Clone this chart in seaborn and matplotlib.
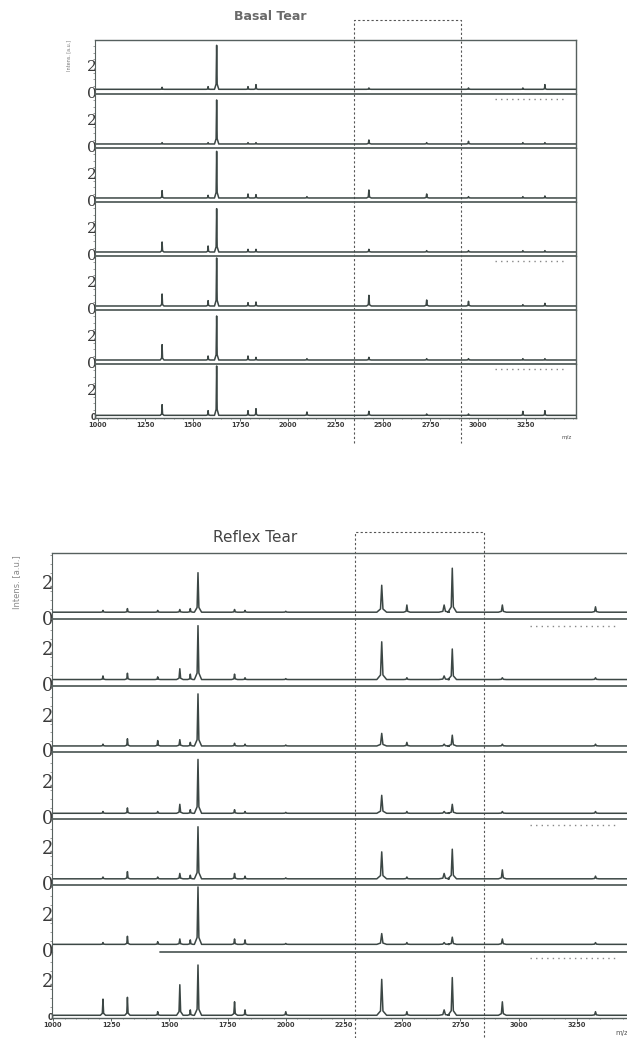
import matplotlib
matplotlib.use("Agg")
import matplotlib.pyplot as plt
import matplotlib.transforms as mtransforms
from matplotlib.ticker import MultipleLocator
import pandas as pd
import seaborn as sns

sns.set_theme(style="white")
plt.rcParams["font.family"] = ["DejaVu Sans"]

# Basal tear: peak m/z, peak half-widths, heights per trace (top trace first)
basal_mz = [1338, 1580, 1625, 1790, 1832, 2100, 2426, 2730, 2950, 3236, 3352]
basal_w = [7, 7, 8, 7, 7, 8, 9, 9, 9, 7, 7]
basal_h = [
    [0.15, 0.2, 3.3, 0.2, 0.35, 0.0, 0.1, 0.0, 0.1, 0.1, 0.35],
    [0.1, 0.1, 3.3, 0.1, 0.1, 0.0, 0.3, 0.1, 0.2, 0.1, 0.1],
    [0.55, 0.2, 3.5, 0.3, 0.25, 0.1, 0.6, 0.3, 0.1, 0.1, 0.15],
    [0.75, 0.45, 3.25, 0.2, 0.2, 0.0, 0.2, 0.1, 0.1, 0.1, 0.1],
    [0.9, 0.4, 3.6, 0.25, 0.3, 0.0, 0.8, 0.45, 0.35, 0.1, 0.2],
    [1.15, 0.3, 3.3, 0.3, 0.2, 0.1, 0.2, 0.1, 0.1, 0.1, 0.1],
    [0.8, 0.35, 3.7, 0.35, 0.5, 0.25, 0.3, 0.1, 0.1, 0.3, 0.35],
]
basal_base = [0.25, 0.2, 0.2, 0.2, 0.2, 0.2, 0.1]

# Reflex tear
reflex_mz = [1215, 1320, 1450, 1545, 1590, 1623, 1780, 1825, 2000,
             2412, 2520, 2680, 2715, 2930, 3330]
reflex_w = [8, 8, 8, 10, 8, 11, 9, 8, 10, 15, 10, 16, 13, 12, 11]
reflex_h = [
    [0.1, 0.2, 0.1, 0.15, 0.2, 2.2, 0.15, 0.1, 0.05, 1.5, 0.4, 0.4, 2.45, 0.4, 0.3],
    [0.2, 0.35, 0.15, 0.6, 0.3, 3.0, 0.3, 0.1, 0.05, 2.1, 0.1, 0.2, 1.7, 0.1, 0.1],
    [0.1, 0.4, 0.3, 0.35, 0.2, 2.9, 0.15, 0.1, 0.05, 0.7, 0.2, 0.1, 0.6, 0.1, 0.1],
    [0.1, 0.3, 0.1, 0.5, 0.2, 3.0, 0.2, 0.1, 0.05, 1.0, 0.1, 0.1, 0.5, 0.1, 0.1],
    [0.1, 0.4, 0.1, 0.3, 0.2, 2.9, 0.3, 0.15, 0.05, 1.5, 0.1, 0.3, 1.65, 0.5, 0.15],
    [0.1, 0.45, 0.15, 0.3, 0.25, 3.2, 0.3, 0.25, 0.05, 0.6, 0.1, 0.1, 0.4, 0.3, 0.1],
    [0.9, 1.0, 0.2, 1.7, 0.3, 2.8, 0.75, 0.3, 0.2, 2.0, 0.2, 0.3, 2.1, 0.75, 0.2],
]
reflex_base = [0.3, 0.25, 0.25, 0.2, 0.25, 0.3, 0.05]

xticks = [1000, 1250, 1500, 1750, 2000, 2250, 2500, 2750, 3000, 3250]
basal_box = (2350, 2910)
reflex_box = (2297, 2851)
artifact_rows = [0, 3, 5]
basal_artifact = (3090, 3450)
reflex_artifact = (3050, 3420)
reflex_gap_start = 1460

line_c = "#3c4745"
div_c = "#56605e"
text_c = "#3a3a3a"


def trace(mz, h, w, base, lo, hi):
    xs, ys = [lo], [base]
    for m, hh, ww in sorted(zip(mz, h, w)):
        if hh <= 0:
            continue
        xs += [m - 1.4 * ww, m - 0.35 * ww, m, m + 0.35 * ww, m + 1.4 * ww]
        ys += [base, base + 0.12 * hh, base + hh, base + 0.12 * hh, base]
    xs.append(hi)
    ys.append(base)
    return pd.DataFrame({"mz": xs, "I": ys})


def panel(rect, xlim, ylim, mz, w, heights, bases, fs2, art, right_spine):
    left, bottom, width, height = rect
    n = len(heights)
    sh = height / n
    axes = []
    for i in range(n):
        ax = fig.add_axes([left, bottom + height - (i + 1) * sh, width, sh])
        ax.set_facecolor("none")
        df = trace(mz, heights[i], w, bases[i], xlim[0], xlim[1])
        sns.lineplot(data=df, x="mz", y="I", sort=False, estimator=None,
                     color=line_c, lw=1.1, ax=ax)
        ax.set_xlim(*xlim)
        ax.set_ylim(*ylim)
        ax.set_xlabel("")
        ax.set_ylabel("")
        for s in ax.spines.values():
            s.set_color(div_c)
        ax.spines["left"].set_linewidth(0.8)
        ax.spines["right"].set_visible(right_spine)
        ax.spines["right"].set_linewidth(1.0)
        ax.spines["top"].set_visible(i == 0)
        ax.spines["top"].set_linewidth(1.0)
        ax.spines["bottom"].set_linewidth(1.3 if i < n - 1 else 1.0)
        ax.set_yticks([0, 2])
        ax.set_yticklabels(["0", "2"], family="DejaVu Serif", fontsize=fs2,
                           color=text_c)
        ax.yaxis.set_minor_locator(MultipleLocator(0.5))
        ax.tick_params(axis="y", which="major", length=0, pad=-1)
        ax.tick_params(axis="y", which="minor", length=1.5, width=0.5,
                       color="#777", left=True)
        if i < n - 1:
            ax.set_xticks([])
            ax.tick_params(axis="x", which="both", bottom=False, labelbottom=False)
        else:
            ax.set_xticks(xticks)
            ax.set_xticklabels([str(t) for t in xticks], fontsize=4.8,
                               fontweight="bold", color=text_c)
            ax.xaxis.set_minor_locator(MultipleLocator(50))
            ax.tick_params(axis="x", which="major", length=2, width=0.6,
                           pad=1, bottom=True, color=line_c)
            ax.tick_params(axis="x", which="minor", length=1, width=0.4,
                           bottom=True, color=line_c)
            lab = ax.get_yticklabels()
            lab[0].set_fontsize(6)
            lab[0].set_family("DejaVu Sans")
            lab[0].set_fontweight("bold")
        if i in artifact_rows:
            ax.plot(list(art), [-0.45, -0.45], ls=(0, (1, 3)), lw=1.0,
                    color="#888", clip_on=False)
        axes.append(ax)
    return axes


fig = plt.figure(figsize=(6.27, 10.38), dpi=100)

top_axes = panel((0.1515, 0.5973, 0.767, 0.3642), (985, 3515), (-0.1, 3.95),
                 basal_mz, basal_w, basal_h, basal_base, 11, basal_artifact, True)
bot_axes = panel((0.0829, 0.0193, 0.930, 0.4480), (996, 3500), (-0.1, 3.6),
                 reflex_mz, reflex_w, reflex_h, reflex_base, 13, reflex_artifact,
                 False)

# strip 6 divider of the reflex panel only starts part way
ax6 = bot_axes[5]
ax6.spines["bottom"].set_visible(False)
ax6.plot([reflex_gap_start, 3500], [-0.1, -0.1], color=div_c, lw=1.3,
         clip_on=False)

# dashed highlight boxes
tr = mtransforms.blended_transform_factory(top_axes[0].transData, fig.transFigure)
x0, x1 = basal_box
top_axes[0].plot([x0, x0, x1, x1], [0.573, 0.9807, 0.9807, 0.573], transform=tr,
                 ls=(0, (2, 2)), lw=0.8, color="#555", clip_on=False)
tr = mtransforms.blended_transform_factory(bot_axes[0].transData, fig.transFigure)
x0, x1 = reflex_box
bot_axes[0].plot([x0, x0, x1, x1], [0.0, 0.4875, 0.4875, 0.0], transform=tr,
                 ls=(0, (2, 2)), lw=0.8, color="#555", clip_on=False)

fig.text(270 / 627, 1 - 16 / 1038, "Basal Tear", ha="center", va="center",
         fontsize=9, fontweight="bold", color="#6a6a6a")
fig.text(255 / 627, 1 - 537 / 1038, "Reflex Tear", ha="center", va="center",
         fontsize=11, color="#444")
fig.text(69 / 627, 1 - 55 / 1038, "Intens. [a.u.]", rotation=90, ha="center",
         va="center", fontsize=3.5, color="#777")
fig.text(17 / 627, 1 - 582 / 1038, "Intens. [a.u.]", rotation=90, ha="center",
         va="center", fontsize=6, color="#888")
fig.text(567 / 627, 1 - 437 / 1038, "m/z", ha="center", va="center",
         fontsize=4, color="#555")
fig.text(622 / 627, 1 - 1033 / 1038, "m/z", ha="center", va="center",
         fontsize=5, color="#555")

fig.savefig("out.png", dpi=100)
